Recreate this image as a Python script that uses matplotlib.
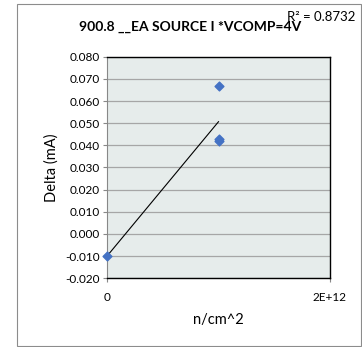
import numpy as np
import matplotlib
matplotlib.use('Agg')
import matplotlib.pyplot as plt
from matplotlib.patches import Rectangle

plt.rcParams['font.family'] = ['Lato', 'DejaVu Sans']

# Data
fluence = [0, 1e12, 1e12, 1e12]
delta = [-0.010, 0.067, 0.043, 0.042]
y_ticks = [-0.020, -0.010, 0.000, 0.010, 0.020, 0.030, 0.040, 0.050, 0.060, 0.070, 0.080]
x_ticks = [0, 2e12]
x_tick_labels = ['0', '2E+12']

fig = plt.figure(figsize=(3.62, 3.47), dpi=100)
# outer chart border
fig.patches.append(Rectangle((17 / 362, 1 / 347), 344 / 362, 342 / 347, transform=fig.transFigure,
                             fill=False, edgecolor='#8c8c8c', linewidth=0.8))

ax = fig.add_axes([0.2956, 0.198, 0.616, 0.6386])
ax.set_facecolor('#e6eceb')

# linear trendline
slope, intercept = np.polyfit(fluence, delta, 1)
pred = np.polyval([slope, intercept], fluence)
r2 = 1 - np.sum((np.array(delta) - pred) ** 2) / np.sum((np.array(delta) - np.mean(delta)) ** 2)
xs = np.array([min(fluence), max(fluence)])
ax.plot(xs, slope * xs + intercept, color='black', linewidth=0.8, zorder=3)

ax.scatter(fluence, delta, marker='D', s=20, color='#4472c4', zorder=4, clip_on=False)

ax.set_xlim(0, 2e12)
ax.set_ylim(-0.020, 0.080)
ax.set_yticks(y_ticks)
ax.set_yticklabels(['%.3f' % v for v in y_ticks])
ax.set_xticks(x_ticks)
ax.set_xticklabels(x_tick_labels)
ax.grid(axis='y', color='#a6a6a6', linewidth=0.9)
ax.set_axisbelow(True)
ax.tick_params(axis='y', labelsize=8.5, length=3, color='#888888', pad=2)
ax.tick_params(axis='x', labelsize=8.5, length=3, color='#888888', pad=7)

for side in ['top', 'right', 'bottom']:
    ax.spines[side].set_color('black')
    ax.spines[side].set_linewidth(1.0)
ax.spines['left'].set_color('#888888')

ax.set_ylabel('Delta (mA)', fontsize=10.5, labelpad=5)
ax.set_xlabel('n/cm^2', fontsize=10.5, labelpad=7)

fig.text(190 / 362, 1 - 27 / 347, '900.8 __EA SOURCE I *VCOMP=4V', fontsize=10, fontweight='bold',
         ha='center', va='center')
fig.text(321 / 362, 1 - 17 / 347, 'R² = %.4f' % r2, fontsize=9.5, ha='center', va='center')

fig.savefig('out.png', dpi=100)
